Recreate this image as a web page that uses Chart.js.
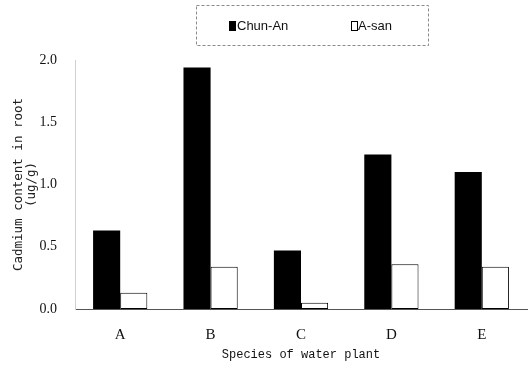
<!DOCTYPE html>
<html><head><meta charset="utf-8">
<script src="https://cdn.jsdelivr.net/npm/chart.js@4"></script>
<style>html,body{margin:0;padding:0;background:#fff}canvas{display:block}</style>
</head><body>
<canvas id="chart" width="530" height="365"></canvas>
<script>
// Cadmium in roots of five water plant species, two sampling sites
const species = ['A', 'B', 'C', 'D', 'E'];
const chunAn = [0.63, 1.94, 0.47, 1.24, 1.10];
const aSan = [0.13, 0.34, 0.05, 0.36, 0.34];
const yTicks = [0, 0.5, 1.0, 1.5, 2.0];

// Legend in a dashed frame above the plot, swatches taken from the datasets
const framedLegend = {
  id: 'framedLegend',
  afterDraw(chart) {
    const ctx = chart.ctx;
    ctx.save();
    ctx.strokeStyle = '#8a8a8a';
    ctx.lineWidth = 1;
    ctx.setLineDash([3, 2]);
    ctx.strokeRect(196.5, 5.5, 232, 40);
    ctx.setLineDash([]);
    const slots = [{x: 229, tx: 237}, {x: 351, tx: 358}];
    ctx.font = "13px 'Liberation Sans', sans-serif";
    ctx.textBaseline = 'middle';
    chart.data.datasets.forEach((ds, i) => {
      const s = slots[i];
      ctx.fillStyle = ds.backgroundColor;
      ctx.fillRect(s.x, 21, 7, 10);
      if (ds.borderWidth) {
        ctx.strokeStyle = ds.borderColor;
        ctx.strokeRect(s.x + 0.5, 21.5, 6, 9);
      }
      ctx.fillStyle = '#111';
      ctx.fillText(ds.label, s.tx, 26);
    });
    ctx.restore();
  }
};

new Chart(document.getElementById('chart'), {
  type: 'bar',
  data: {
    labels: species,
    datasets: [
      {label: 'Chun-An', data: chunAn, backgroundColor: '#000', borderWidth: 0,
       barPercentage: 1, categoryPercentage: 0.6},
      {label: 'A-san', data: aSan, backgroundColor: '#fff', borderColor: '#000', borderWidth: 1,
       borderSkipped: false, barPercentage: 1, categoryPercentage: 0.6}
    ]
  },
  options: {
    responsive: false,
    animation: false,
    layout: {padding: {top: 60, right: 3, left: 0, bottom: 0}},
    plugins: {legend: {display: false}, tooltip: {enabled: false}},
    scales: {
      x: {
        grid: {display: false, drawTicks: false},
        border: {display: true, color: '#555', dash: [2, 1.5]},
        ticks: {padding: 17, color: '#111', font: {family: "'Liberation Serif', serif", size: 15}},
        title: {display: true, text: 'Species of water plant', color: '#111',
                font: {family: "'Liberation Mono', monospace", size: 12}, padding: {top: 0, bottom: 3}},
        afterFit: s => { s.height = 56; }
      },
      y: {
        min: 0, max: 2,
        grid: {display: false, drawTicks: false},
        border: {display: true, color: '#d0d0d0', dash: [2, 3]},
        afterBuildTicks: s => { s.ticks = yTicks.map(v => ({value: v})); },
        ticks: {padding: 18, color: '#111', font: {family: "'Liberation Serif', serif", size: 14},
                callback: v => Number(v).toFixed(1)},
        title: {display: true, text: ['Cadmium content in root', '(ug/g)'], color: '#222',
                font: {family: "'DejaVu Sans Mono', monospace", size: 12.5, lineHeight: 1.1},
                padding: {top: 11.5, bottom: 0}},
        afterFit: s => { s.width = 75; }
      }
    }
  },
  plugins: [framedLegend]
});
</script>
</body></html>
